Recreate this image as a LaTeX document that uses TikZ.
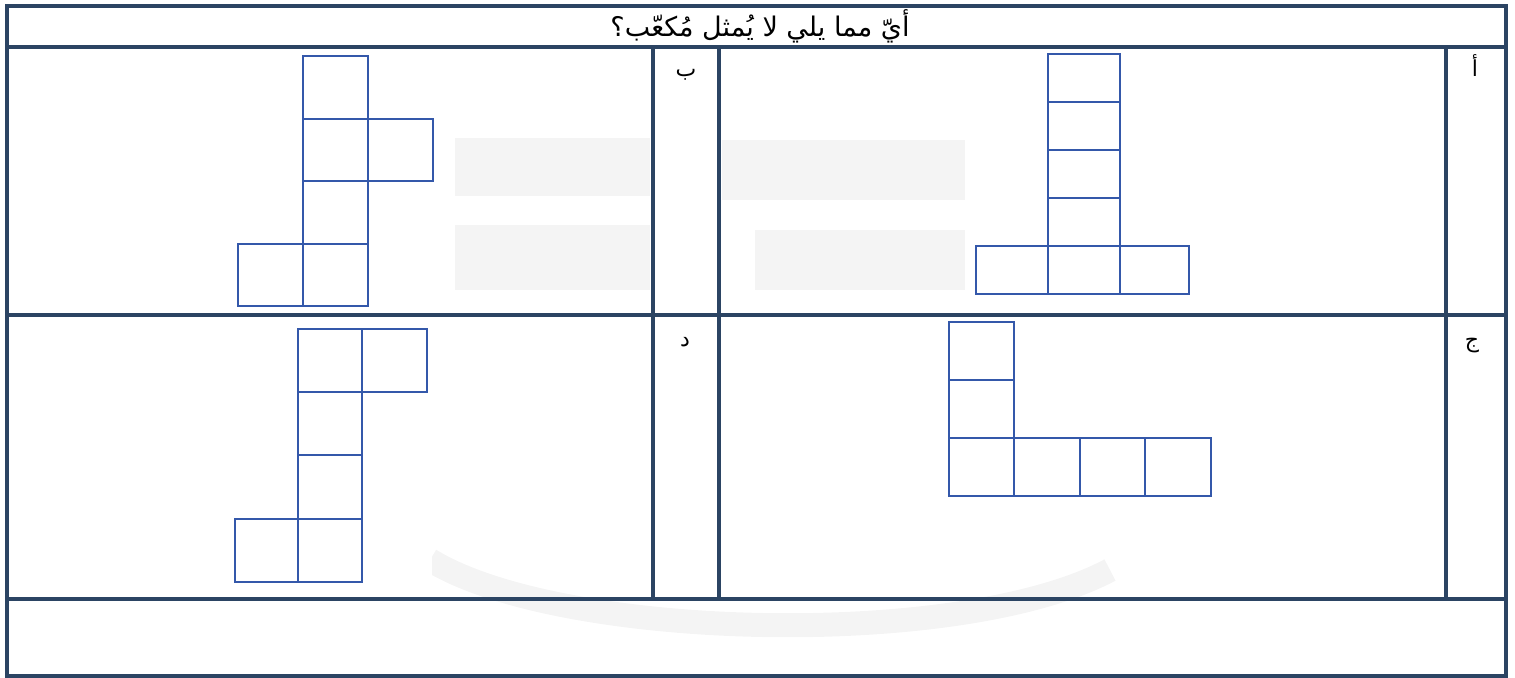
\documentclass[tikz,border=0pt]{standalone}
\usepackage{fontspec}
\newfontfamily\arabicfont[Script=Arabic]{DejaVu Sans}
\TeXXeTstate=1
\definecolor{tbl}{RGB}{43,68,99}
\definecolor{netc}{RGB}{52,88,170}
\definecolor{wm}{RGB}{244,244,244}
\begin{document}
\begin{tikzpicture}[x=0.5pt,y=-0.5pt,
  tline/.style={draw=tbl, line width=2pt},
  sq/.style={draw=netc, line width=0.9pt},
  title/.style={font=\arabicfont\fontsize{13.5}{15}\selectfont, inner sep=0pt, text=black},
  lbl/.style={font=\arabicfont\fontsize{11}{13}\selectfont, inner sep=0pt, text=black},
  bgwhite/.style={fill=white, draw=none},
  wmark/.style={draw=wm, line width=12pt}]
\useasboundingbox (0,0) rectangle (1515,678);
% faint watermark
\fill[wm] (455,138) rectangle (650,196);
\fill[wm] (455,225) rectangle (650,290);
\fill[wm] (722,140) rectangle (965,200);
\fill[wm] (755,230) rectangle (965,290);
\draw[wmark] (430,560) .. controls (560,640) and (960,650) .. (1110,570);
% white backgrounds behind the nets
\fill[bgwhite] (207,49) rectangle (453,313);
\fill[bgwhite] (967,49) rectangle (1195,303);
\fill[bgwhite] (228,317) rectangle (432,597);
\fill[bgwhite] (935,317) rectangle (1222,512);
% table
\draw[tline] (7,6) rectangle (1506,676);
\draw[tline] (5,47) -- (1508,47);
\draw[tline] (5,315) -- (1508,315);
\draw[tline] (5,599) -- (1508,599);
\draw[tline] (652.5,47) -- (652.5,599);
\draw[tline] (718.5,47) -- (718.5,599);
\draw[tline] (1446,47) -- (1446,599);
% header
\node[title] (q) at (760,26) {\beginR أيّ مما يلي لا يُمثل مُكعّب؟\endR};
% labels
\node[lbl] (la) at (1475,66) {\beginR أ\endR};
\node[lbl] (lb) at (686,75) {\beginR ب\endR};
\node[lbl] (lc) at (1472,346) {\beginR ج\endR};
\node[lbl] (ld) at (685,342) {\beginR د\endR};
% net a
\foreach \ya/\yb in {54/102,102/150,150/198,198/246,246/294}
  \draw[sq] (1048,\ya) rectangle (1120,\yb);
\draw[sq] (976,246) rectangle (1048,294);
\draw[sq] (1120,246) rectangle (1189,294);
% net b
\foreach \ya/\yb in {56/119,119/181,181/244,244/306}
  \draw[sq] (303,\ya) rectangle (368,\yb);
\draw[sq] (368,119) rectangle (433,181);
\draw[sq] (238,244) rectangle (303,306);
% net c
\draw[sq] (949,322) rectangle (1014,380);
\draw[sq] (949,380) rectangle (1014,438);
\foreach \xa/\xb in {949/1014,1014/1080,1080/1145,1145/1211}
  \draw[sq] (\xa,438) rectangle (\xb,496);
% net d
\foreach \ya/\yb in {329/392,392/455,455/519,519/582}
  \draw[sq] (298,\ya) rectangle (362,\yb);
\draw[sq] (362,329) rectangle (427,392);
\draw[sq] (235,519) rectangle (298,582);
\end{tikzpicture}
\end{document}
